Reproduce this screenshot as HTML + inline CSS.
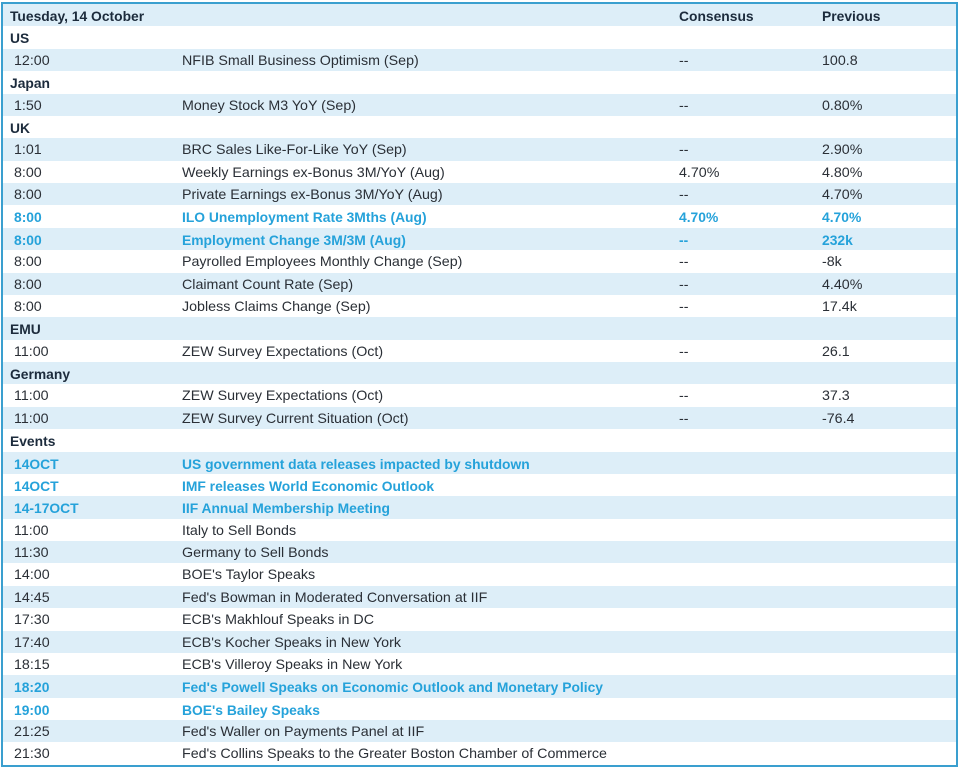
<!DOCTYPE html>
<html>
<head>
<meta charset="utf-8">
<style>
  html,body{margin:0;padding:0;background:#fff;}
  body{width:961px;height:769px;position:relative;overflow:hidden;
       font-family:"Liberation Sans",Arial,sans-serif;}
  #box{position:absolute;left:1px;top:2px;width:953px;height:761px;
       border:2px solid #3a9fcf;}
  .r{position:relative;height:22.38px;width:953px;}
  .l{background:#ddeef8;}
  .w{background:#ffffff;}
  .r span{position:absolute;top:1px;line-height:22.38px;white-space:nowrap;
          font-size:14.25px;color:#2a2f36;}
  .c0{left:7px;}
  .c1{left:11px;}
  .c2{left:179px;}
  .c3{left:676px;}
  .c4{left:819px;}
  .r span.b{font-weight:bold;font-size:13.85px;color:#1c2b3c;}
  .r span.h{font-weight:bold;font-size:13.85px;color:#25a2da;}
</style>
</head>
<body>
<div id="box">
  <div class="r l"><span class="c0 b">Tuesday, 14 October</span><span class="c3 b">Consensus</span><span class="c4 b">Previous</span></div>
  <div class="r w"><span class="c0 b">US</span></div>
  <div class="r l"><span class="c1">12:00</span><span class="c2">NFIB Small Business Optimism (Sep)</span><span class="c3">--</span><span class="c4">100.8</span></div>
  <div class="r w"><span class="c0 b">Japan</span></div>
  <div class="r l"><span class="c1">1:50</span><span class="c2">Money Stock M3 YoY (Sep)</span><span class="c3">--</span><span class="c4">0.80%</span></div>
  <div class="r w"><span class="c0 b">UK</span></div>
  <div class="r l"><span class="c1">1:01</span><span class="c2">BRC Sales Like-For-Like YoY (Sep)</span><span class="c3">--</span><span class="c4">2.90%</span></div>
  <div class="r w"><span class="c1">8:00</span><span class="c2">Weekly Earnings ex-Bonus 3M/YoY (Aug)</span><span class="c3">4.70%</span><span class="c4">4.80%</span></div>
  <div class="r l"><span class="c1">8:00</span><span class="c2">Private Earnings ex-Bonus 3M/YoY (Aug)</span><span class="c3">--</span><span class="c4">4.70%</span></div>
  <div class="r w"><span class="c1 h">8:00</span><span class="c2 h">ILO Unemployment Rate 3Mths (Aug)</span><span class="c3 h">4.70%</span><span class="c4 h">4.70%</span></div>
  <div class="r l"><span class="c1 h">8:00</span><span class="c2 h">Employment Change 3M/3M (Aug)</span><span class="c3 h">--</span><span class="c4 h">232k</span></div>
  <div class="r w"><span class="c1">8:00</span><span class="c2">Payrolled Employees Monthly Change (Sep)</span><span class="c3">--</span><span class="c4">-8k</span></div>
  <div class="r l"><span class="c1">8:00</span><span class="c2">Claimant Count Rate (Sep)</span><span class="c3">--</span><span class="c4">4.40%</span></div>
  <div class="r w"><span class="c1">8:00</span><span class="c2">Jobless Claims Change (Sep)</span><span class="c3">--</span><span class="c4">17.4k</span></div>
  <div class="r l"><span class="c0 b">EMU</span></div>
  <div class="r w"><span class="c1">11:00</span><span class="c2">ZEW Survey Expectations (Oct)</span><span class="c3">--</span><span class="c4">26.1</span></div>
  <div class="r l"><span class="c0 b">Germany</span></div>
  <div class="r w"><span class="c1">11:00</span><span class="c2">ZEW Survey Expectations (Oct)</span><span class="c3">--</span><span class="c4">37.3</span></div>
  <div class="r l"><span class="c1">11:00</span><span class="c2">ZEW Survey Current Situation (Oct)</span><span class="c3">--</span><span class="c4">-76.4</span></div>
  <div class="r w"><span class="c0 b">Events</span></div>
  <div class="r l"><span class="c1 h">14OCT</span><span class="c2 h">US government data releases impacted by shutdown</span></div>
  <div class="r w"><span class="c1 h">14OCT</span><span class="c2 h">IMF releases World Economic Outlook</span></div>
  <div class="r l"><span class="c1 h">14-17OCT</span><span class="c2 h">IIF Annual Membership Meeting</span></div>
  <div class="r w"><span class="c1">11:00</span><span class="c2">Italy to Sell Bonds</span></div>
  <div class="r l"><span class="c1">11:30</span><span class="c2">Germany to Sell Bonds</span></div>
  <div class="r w"><span class="c1">14:00</span><span class="c2">BOE's Taylor Speaks</span></div>
  <div class="r l"><span class="c1">14:45</span><span class="c2">Fed's Bowman in Moderated Conversation at IIF</span></div>
  <div class="r w"><span class="c1">17:30</span><span class="c2">ECB's Makhlouf Speaks in DC</span></div>
  <div class="r l"><span class="c1">17:40</span><span class="c2">ECB's Kocher Speaks in New York</span></div>
  <div class="r w"><span class="c1">18:15</span><span class="c2">ECB's Villeroy Speaks in New York</span></div>
  <div class="r l"><span class="c1 h">18:20</span><span class="c2 h">Fed's Powell Speaks on Economic Outlook and Monetary Policy</span></div>
  <div class="r w"><span class="c1 h">19:00</span><span class="c2 h">BOE's Bailey Speaks</span></div>
  <div class="r l"><span class="c1">21:25</span><span class="c2">Fed's Waller on Payments Panel at IIF</span></div>
  <div class="r w"><span class="c1">21:30</span><span class="c2">Fed's Collins Speaks to the Greater Boston Chamber of Commerce</span></div>
</div>
</body>
</html>
